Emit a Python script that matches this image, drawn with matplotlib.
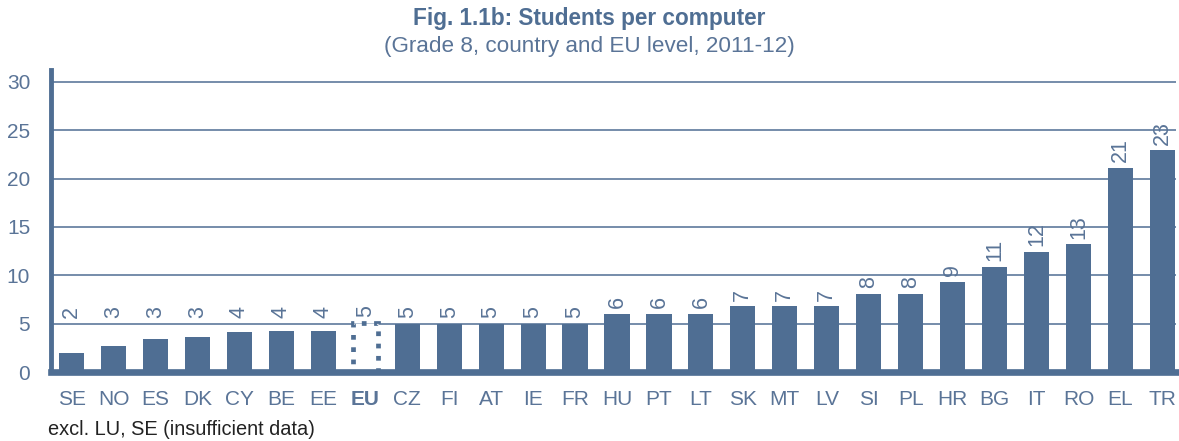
import matplotlib
matplotlib.use("Agg")
import matplotlib.pyplot as plt
import numpy as np

# data
countries = ["SE", "NO", "ES", "DK", "CY", "BE", "EE", "EU", "CZ", "FI", "AT", "IE", "FR",
             "HU", "PT", "LT", "SK", "MT", "LV", "SI", "PL", "HR", "BG", "IT", "RO", "EL", "TR"]
values = [2.0, 2.7, 3.4, 3.6, 4.2, 4.3, 4.3, 5.1, 5.0, 5.0, 5.0, 5.0, 5.0,
          6.0, 6.0, 6.0, 6.8, 6.8, 6.8, 8.1, 8.1, 9.3, 10.9, 12.4, 13.2, 21.1, 22.9]
labels = ["2", "3", "3", "3", "4", "4", "4", "5", "5", "5", "5", "5", "5",
          "6", "6", "6", "7", "7", "7", "8", "8", "9", "11", "12", "13", "21", "23"]
highlight = "EU"
yticks = [0, 5, 10, 15, 20, 25, 30]

BLUE = "#4F6E93"
TEXT = "#5A7497"

plt.rcParams["font.family"] = ["Liberation Sans", "DejaVu Sans"]

fig = plt.figure(figsize=(11.79, 4.41), dpi=100)
ax = fig.add_axes([0.0433, 0.156, 0.954, 0.685])

x = np.arange(len(countries))
for i, (c, v) in enumerate(zip(countries, values)):
    if c == highlight:
        # EU average drawn as a dotted outline
        ax.bar(i, v, width=0.6, facecolor="white", edgecolor=BLUE,
               linewidth=3.4, linestyle=(0, (1, 1.6)), zorder=3)
    else:
        ax.bar(i, v, width=0.6, color=BLUE, zorder=3)
    ax.text(i, max(v, 5.0) + 0.6, labels[i], rotation=90, ha="center", va="bottom",
            fontsize=15.5, color=TEXT)

ax.set_xlim(-0.49, len(countries) - 1 + 0.32)
ax.set_ylim(0, 31.2)
ax.set_yticks(yticks)
ax.set_xticks(x)
ax.set_xticklabels(countries)
for lbl in ax.get_xticklabels():
    if lbl.get_text() == highlight:
        lbl.set_fontweight("bold")
        lbl.set_color(BLUE)

ax.tick_params(axis="both", length=0, labelsize=15, colors=TEXT)
ax.tick_params(axis="y", pad=15)
ax.tick_params(axis="x", pad=13)

ax.grid(axis="y", color=BLUE, linewidth=1.1, zorder=1)
ax.set_axisbelow(True)
for side in ["top", "right"]:
    ax.spines[side].set_visible(False)
ax.spines["left"].set_color(BLUE)
ax.spines["left"].set_linewidth(3.5)
ax.spines["bottom"].set_color(BLUE)
ax.spines["bottom"].set_linewidth(4.8)
ax.spines["bottom"].set_zorder(4)

fig.text(0.5, 0.958, "Fig. 1.1b: Students per computer", ha="center", va="center",
         fontsize=16.3, fontweight="bold", color=BLUE)
fig.text(0.5, 0.895, "(Grade 8, country and EU level, 2011-12)", ha="center", va="center",
         fontsize=16.2, color=TEXT)
fig.text(0.041, 0.004, "excl. LU, SE (insufficient data)", ha="left", va="bottom",
         fontsize=14.4, color="#222222")

fig.savefig("out.png", dpi=100)
